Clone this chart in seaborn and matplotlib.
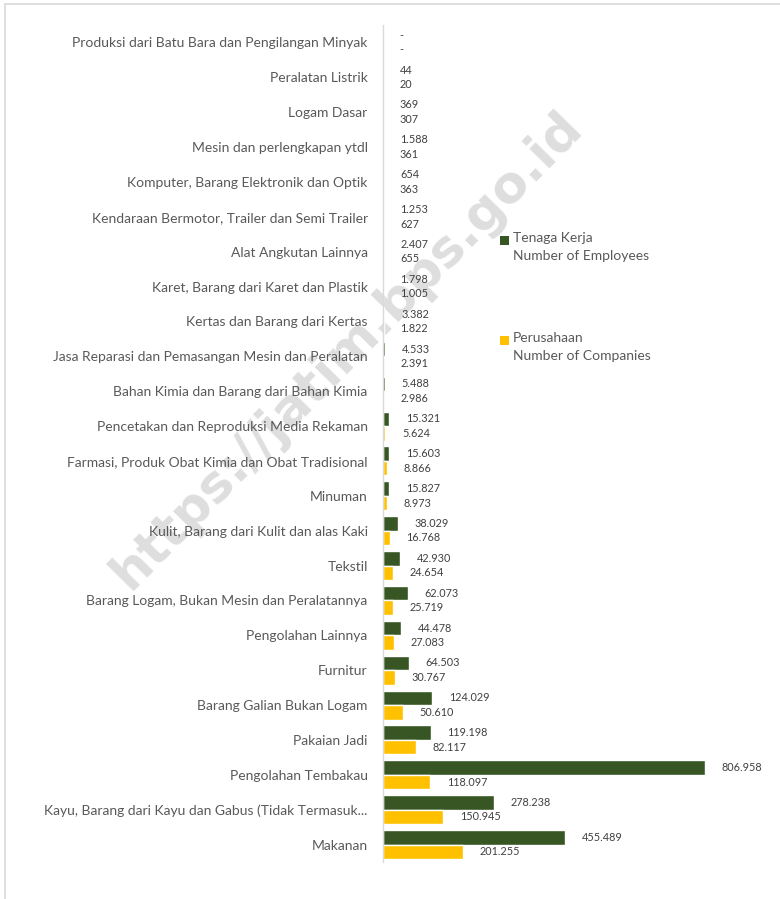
import matplotlib
matplotlib.use("Agg")
import matplotlib.pyplot as plt
from matplotlib.patches import Rectangle
from matplotlib.lines import Line2D
import seaborn as sns
import pandas as pd

categories = [
    "Produksi dari Batu Bara dan Pengilangan Minyak",
    "Peralatan Listrik",
    "Logam Dasar",
    "Mesin dan perlengkapan ytdl",
    "Komputer, Barang Elektronik dan Optik",
    "Kendaraan Bermotor, Trailer dan Semi Trailer",
    "Alat Angkutan Lainnya",
    "Karet, Barang dari Karet dan Plastik",
    "Kertas dan Barang dari Kertas",
    "Jasa Reparasi dan Pemasangan Mesin dan Peralatan",
    "Bahan Kimia dan Barang dari Bahan Kimia",
    "Pencetakan dan Reproduksi Media Rekaman",
    "Farmasi, Produk Obat Kimia dan Obat Tradisional",
    "Minuman",
    "Kulit, Barang dari Kulit dan alas Kaki",
    "Tekstil",
    "Barang Logam, Bukan Mesin dan Peralatannya",
    "Pengolahan Lainnya",
    "Furnitur",
    "Barang Galian Bukan Logam",
    "Pakaian Jadi",
    "Pengolahan Tembakau",
    "Kayu, Barang dari Kayu dan Gabus (Tidak Termasuk...",
    "Makanan",
]
# None means "-" in the source
tenaga_kerja = [None, 44, 369, 1588, 654, 1253, 2407, 1798, 3382, 4533, 5488,
                15321, 15603, 15827, 38029, 42930, 62073, 44478, 64503,
                124029, 119198, 806958, 278238, 455489]
perusahaan = [None, 20, 307, 361, 363, 627, 655, 1005, 1822, 2391, 2986,
              5624, 8866, 8973, 16768, 24654, 25719, 27083, 30767,
              50610, 82117, 118097, 150945, 201255]
series_names = ["Tenaga Kerja\nNumber of Employees", "Perusahaan\nNumber of Companies"]
colors = ["#375623", "#FFC000"]

rows = []
for c, a, b in zip(categories, tenaga_kerja, perusahaan):
    rows.append({"cat": c, "series": series_names[0], "value": a if a is not None else 0})
    rows.append({"cat": c, "series": series_names[1], "value": b if b is not None else 0})
df = pd.DataFrame(rows)

sns.set_style("white")
plt.rcParams["font.family"] = ["Lato", "DejaVu Sans"]

W, H = 780, 899
fig = plt.figure(figsize=(W / 100, H / 100), dpi=100)
ax = fig.add_axes([383 / W, 1 - 862 / H, (760 - 383) / W, (862 - 25) / H])
ax.set_zorder(1)
ax.set_facecolor("none")

# watermark (behind the axes)
fig.text(347 / W, 1 - 350 / H, "https://jatim.bps.go.id", rotation=45.5,
         ha="center", va="center", fontsize=37, fontweight="bold",
         color="#dedede", family="DejaVu Sans", zorder=0)

sns.barplot(data=df, y="cat", x="value", hue="series", order=categories,
            hue_order=series_names, palette=colors, orient="h", saturation=1,
            width=0.83, gap=0, ax=ax, legend=False, zorder=2)

def fmt(v):
    if v is None:
        return "-"
    return f"{v:,}".replace(",", ".")

for cont, vals in zip(ax.containers, [tenaga_kerja, perusahaan]):
    ax.bar_label(cont, labels=[fmt(v) for v in vals], padding=12,
                 fontsize=7.8, color="#404040")

ax.set_xlim(0, 806958 * 377 / 322)
ax.set_xlabel("")
ax.set_ylabel("")
ax.set_xticks([])
ax.tick_params(axis="y", length=0, pad=11, labelsize=10, labelcolor="#595959")
for s in ["top", "right", "bottom"]:
    ax.spines[s].set_visible(False)
ax.spines["left"].set_color("#d9d9d9")
ax.spines["left"].set_linewidth(1)

# legend
for (yy, name, col) in [(240, series_names[0], colors[0]), (340, series_names[1], colors[1])]:
    fig.patches.append(Rectangle((500 / W, 1 - (yy + 5) / H), 9 / W, 9 / H,
                                 transform=fig.transFigure, facecolor=col,
                                 edgecolor="none"))
    fig.text(513 / W, 1 - (yy - 8) / H, name, ha="left", va="top",
             fontsize=10, color="#595959", linespacing=1.6)

# outer frame
fig.lines.append(Line2D([5 / W, 1], [1 - 4 / H, 1 - 4 / H], transform=fig.transFigure,
                        color="#d9d9d9", lw=1.2))
fig.lines.append(Line2D([5 / W, 5 / W], [0, 1 - 4 / H], transform=fig.transFigure,
                        color="#d9d9d9", lw=1.2))

fig.savefig("out.png", dpi=100, facecolor="white")
